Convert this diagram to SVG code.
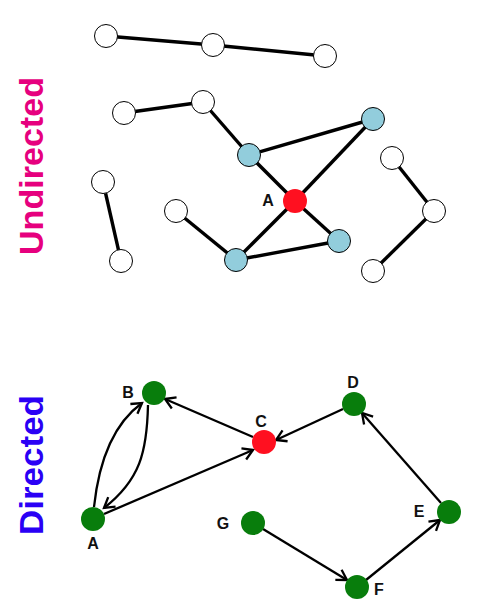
<svg xmlns="http://www.w3.org/2000/svg" width="483" height="616" viewBox="0 0 483 616">
<defs>
<style>
.e{stroke:#000;stroke-width:3.4;fill:none}
.d{stroke:#000;stroke-width:2.3;fill:none;marker-end:url(#arr)}
.w{fill:#fff;stroke:#000;stroke-width:1}
.b{fill:#92cddc;stroke:#000;stroke-width:1}
.r{fill:#ff1020}
.g{fill:#087d0c}
.lbl{font-family:"Liberation Sans",Arial,sans-serif;font-weight:bold;font-size:16px;fill:#111;text-anchor:middle}
.side{font-family:"Liberation Sans",Arial,sans-serif;font-weight:bold;font-size:33px;text-anchor:middle}
</style>
<marker id="arr" markerUnits="userSpaceOnUse" markerWidth="16" markerHeight="16" viewBox="-12 -8 14 16" refX="0" refY="0" orient="auto">
<path d="M-10,-6 L0,0 L-10,6" fill="none" stroke="#000" stroke-width="2.3" stroke-linejoin="miter"/>
</marker>
</defs>
<rect width="483" height="616" fill="#fff"/>
<text class="side" fill="#e6007e" transform="translate(43,166) rotate(-90)" textLength="178" lengthAdjust="spacingAndGlyphs">Undirected</text>
<text class="side" fill="#2a00f5" transform="translate(43,465) rotate(-90)" textLength="140" lengthAdjust="spacingAndGlyphs">Directed</text>
<g id="connectors">
<line class="e" x1="106" y1="36" x2="213" y2="45"/>
<line class="e" x1="213" y1="45" x2="325" y2="56"/>
<line class="e" x1="124" y1="113" x2="203" y2="102"/>
<line class="e" x1="203" y1="102" x2="249" y2="155"/>
<line class="e" x1="249" y1="155" x2="373" y2="119"/>
<line class="e" x1="249" y1="155" x2="295" y2="201"/>
<line class="e" x1="295" y1="201" x2="373" y2="119"/>
<line class="e" x1="295" y1="201" x2="339" y2="241"/>
<line class="e" x1="295" y1="201" x2="236" y2="260"/>
<line class="e" x1="236" y1="260" x2="339" y2="241"/>
<line class="e" x1="176" y1="211" x2="236" y2="260"/>
<line class="e" x1="103" y1="182" x2="121" y2="261"/>
<line class="e" x1="392" y1="158" x2="434" y2="211"/>
<line class="e" x1="434" y1="211" x2="373" y2="271"/>
<path class="d" d="M94,507 Q102,432 142,403"/>
<path class="d" d="M148,405 C147,452 140,480 104,508"/>
<line class="d" x1="253" y1="437" x2="165" y2="399"/>
<line class="d" x1="104" y1="514" x2="253" y2="450"/>
<line class="d" x1="343" y1="409" x2="276" y2="440"/>
<line class="d" x1="441" y1="503" x2="362" y2="413"/>
<line class="d" x1="263" y1="529" x2="347" y2="580"/>
<line class="d" x1="366" y1="580" x2="440" y2="520"/>
</g>
<g id="u1"><circle class="w" cx="106" cy="36" r="11.5"/></g>
<g id="u2"><circle class="w" cx="213" cy="45" r="11.5"/></g>
<g id="u3"><circle class="w" cx="325" cy="56" r="11.5"/></g>
<g id="u4"><circle class="w" cx="124" cy="113" r="11.5"/></g>
<g id="u5"><circle class="w" cx="203" cy="102" r="11.5"/></g>
<g id="u6"><circle class="b" cx="249" cy="155" r="11.5"/></g>
<g id="u7"><circle class="b" cx="373" cy="119" r="11.5"/></g>
<g id="uA"><circle class="r" cx="295" cy="201" r="12"/><text class="lbl" x="268" y="206">A</text></g>
<g id="u8"><circle class="b" cx="339" cy="241" r="11.5"/></g>
<g id="u9"><circle class="b" cx="236" cy="260" r="11.5"/></g>
<g id="u10"><circle class="w" cx="176" cy="211" r="11.5"/></g>
<g id="u11"><circle class="w" cx="103" cy="182" r="11.5"/></g>
<g id="u12"><circle class="w" cx="121" cy="261" r="11.5"/></g>
<g id="u13"><circle class="w" cx="392" cy="158" r="11.5"/></g>
<g id="u14"><circle class="w" cx="434" cy="211" r="11.5"/></g>
<g id="u15"><circle class="w" cx="373" cy="271" r="11.5"/></g>
<g id="dA"><circle class="g" cx="93" cy="519" r="12"/><text class="lbl" x="93" y="549">A</text></g>
<g id="dB"><circle class="g" cx="154" cy="393" r="12"/><text class="lbl" x="128" y="398">B</text></g>
<g id="dC"><circle class="r" cx="264" cy="442" r="12"/><text class="lbl" x="261" y="427">C</text></g>
<g id="dD"><circle class="g" cx="354" cy="404" r="12"/><text class="lbl" x="353" y="388">D</text></g>
<g id="dE"><circle class="g" cx="449" cy="512" r="12"/><text class="lbl" x="419" y="517">E</text></g>
<g id="dF"><circle class="g" cx="357" cy="587" r="12"/><text class="lbl" x="379" y="595">F</text></g>
<g id="dG"><circle class="g" cx="253" cy="523" r="12"/><text class="lbl" x="223" y="529">G</text></g>
</svg>
